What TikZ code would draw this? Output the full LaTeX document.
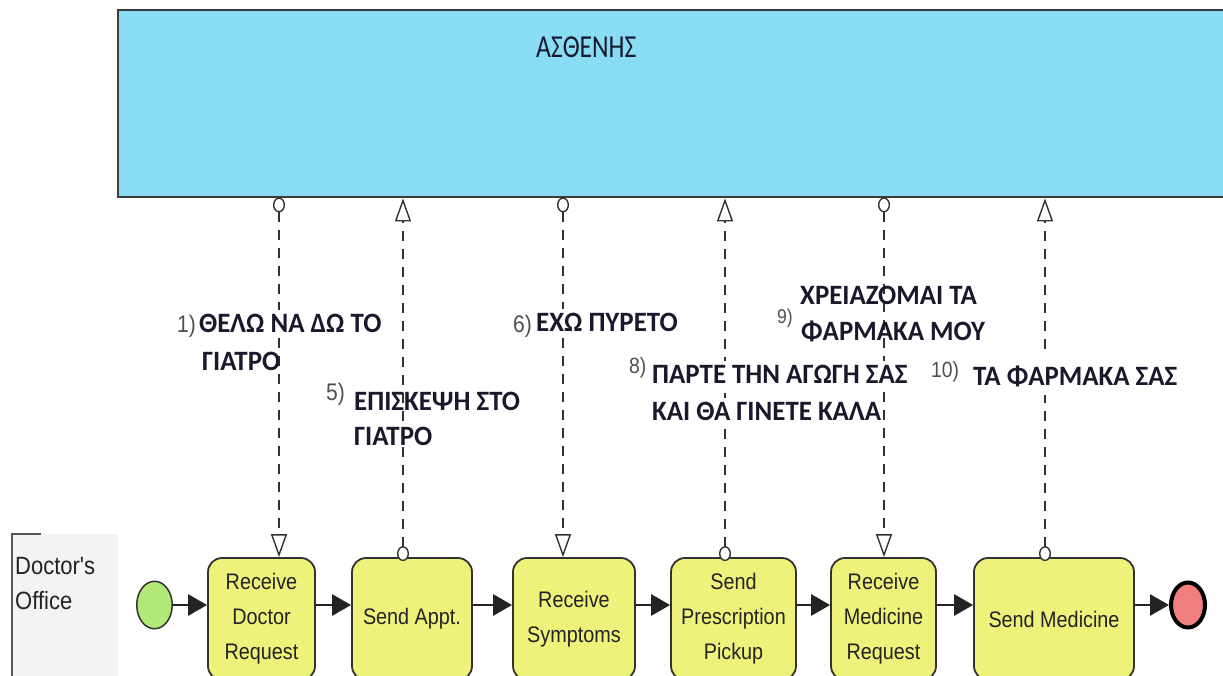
\documentclass[tikz,border=0pt]{standalone}
\usepackage{fontspec}
\setmainfont{Liberation Sans}
\newfontfamily\grk[FakeStretch=0.96]{Carlito}
\newfontfamily\grkc[FakeStretch=0.8]{Carlito}
\newfontfamily\arl[FakeStretch=0.88]{Liberation Sans}
\usetikzlibrary{arrows.meta,shapes.geometric}
\definecolor{poolblue}{RGB}{136,221,245}
\definecolor{poolline}{RGB}{60,60,60}
\definecolor{taskyellow}{RGB}{238,242,122}
\definecolor{taskline}{RGB}{50,50,50}
\definecolor{startgreen}{RGB}{178,232,120}
\definecolor{endred}{RGB}{240,128,128}
\definecolor{lanegray}{RGB}{243,243,243}
\definecolor{laneline}{RGB}{85,85,85}
\definecolor{msgline}{RGB}{50,50,50}
\definecolor{lbltext}{RGB}{25,25,45}
\definecolor{numgray}{RGB}{80,80,80}
\definecolor{txt}{RGB}{35,35,35}
\begin{document}
\begin{tikzpicture}[x=1pt,y=-1pt,
  pool/.style={draw=poolline, line width=2.8pt, fill=poolblue, inner sep=0pt,
    minimum width=1108pt, minimum height=187pt},
  task/.style={draw=taskline, line width=1.8pt, fill=taskyellow, rounded corners=14pt,
    minimum height=122pt, inner sep=0pt, align=center, text=txt,
    font=\arl\fontsize{22.5}{35}\selectfont},
  startev/.style={ellipse, draw=taskline, line width=1.5pt, fill=startgreen,
    minimum width=35.5pt, minimum height=47.5pt, inner sep=0pt},
  endev/.style={ellipse, draw=black, line width=4pt, fill=endred,
    minimum width=34pt, minimum height=45pt, inner sep=0pt},
  flow/.style={draw=txt, line width=2.8pt, -{Triangle[length=19pt,width=21pt]}},
  msg/.style={draw=msgline, line width=1.3pt, dash pattern=on 10pt off 8pt,
    {Ellipse[length=15pt,width=12pt,fill=white,line width=1.4pt]}-{Triangle[length=23pt,width=16pt,fill=white,line width=1.4pt]}},
  lbl/.style={font=\grk\bfseries\fontsize{28}{34}\selectfont, text=lbltext,
    inner sep=2pt, anchor=base west},
  lblw/.style={lbl, fill=white, inner ysep=4pt},
  num/.style={font=\arl\fontsize{24}{28}\selectfont, text=numgray, inner sep=0pt,
    anchor=base west},
  lanetxt/.style={font=\arl\fontsize{25}{30}\selectfont, text=txt, inner sep=0pt,
    anchor=base west}
]
\useasboundingbox (0,0) rectangle (1223,675);
\clip (0,0) rectangle (1223,675);
\fill[white] (0,0) rectangle (1223,675);

% lane
\fill[lanegray] (12,534) rectangle (118,680);
\draw[laneline, line width=2pt] (41,534) -- (12,534) -- (12,680);
\node[lanetxt] (lane1) at (15,574) {Doctor's};
\node[lanetxt] (lane2) at (15,609) {Office};

% pool
\node[pool] (pool) at (672,103.5) {};
\node[font=\grkc\fontsize{32}{36}\selectfont, text=lbltext, inner sep=0pt, anchor=base west]
  (pname) at (536,57) {ΑΣΘΕΝΗΣ};

% tasks and events
\node[startev] (st) at (154.5,605) {};
\node[task, minimum width=107pt] (t1) at (261.5,619) {Receive\\Doctor\\Request};
\node[task, minimum width=120pt] (t2) at (412,619) {Send Appt.};
\node[task, minimum width=122pt] (t3) at (574,619) {Receive\\Symptoms};
\node[task, minimum width=125pt] (t4) at (733.5,619) {Send\\Prescription\\Pickup};
\node[task, minimum width=105pt] (t5) at (883.5,619) {Receive\\Medicine\\Request};
\node[task, minimum width=160pt] (t6) at (1054,619) {Send Medicine};
\node[endev] (en) at (1188,605) {};

% sequence flows
\coordinate (fy) at (0,605);
\draw[flow] (st.east) -- (t1.west |- st.east);
\draw[flow] (t1.east |- fy) -- (t2.west |- fy);
\draw[flow] (t2.east |- fy) -- (t3.west |- fy);
\draw[flow] (t3.east |- fy) -- (t4.west |- fy);
\draw[flow] (t4.east |- fy) -- (t5.west |- fy);
\draw[flow] (t5.east |- fy) -- (t6.west |- fy);
\draw[flow] (t6.east |- fy) -- (en.west);

% message flows
\coordinate (m1) at (279,0);
\coordinate (m2) at (403,0);
\coordinate (m3) at (563,0);
\coordinate (m4) at (725,0);
\coordinate (m5) at (884,0);
\coordinate (m6) at (1045,0);
\draw[msg] ([yshift=1pt]m1 |- pool.south) -- (m1 |- t1.north);
\draw[msg] ([yshift=-4pt]m2 |- t2.north) -- (m2 |- pool.south);
\draw[msg] ([yshift=1pt]m3 |- pool.south) -- (m3 |- t3.north);
\draw[msg] ([yshift=-4pt]m4 |- t4.north) -- (m4 |- pool.south);
\draw[msg] ([yshift=1pt]m5 |- pool.south) -- (m5 |- t5.north);
\draw[msg] ([yshift=-4pt]m6 |- t6.north) -- (m6 |- pool.south);

% message labels
\node[num] (n1) at (177,332) {1)};
\node[lblw] (l1a) at (197,332) {ΘΕΛΩ ΝΑ ΔΩ ΤΟ};
\node[lbl] (l1b) at (200,370) {ΓΙΑΤΡΟ};

\node[num] (n5) at (326,400) {5)};
\node[lbl] (l5a) at (352,410) {ΕΠΙΣΚΕΨΗ ΣΤΟ};
\node[lbl] (l5b) at (352,445) {ΓΙΑΤΡΟ};

\node[num] (n6) at (513,332) {6)};
\node[lblw] (l6) at (534,331) {ΕΧΩ ΠΥΡΕΤΟ};

\node[num, font=\arl\fontsize{22}{26}\selectfont] (n8) at (629,373) {8)};
\node[lblw] (l8a) at (650,383) {ΠΑΡΤΕ ΤΗΝ ΑΓΩΓΗ ΣΑΣ};
\node[lblw] (l8b) at (650,420) {ΚΑΙ ΘΑ ΓΙΝΕΤΕ ΚΑΛΑ};

\node[num, font=\arl\fontsize{20}{24}\selectfont] (n9) at (777,323) {9)};
\node[lbl] (l9a) at (798,304) {ΧΡΕΙΑΖΟΜΑΙ ΤΑ};
\node[lbl] (l9b) at (799,340) {ΦΑΡΜΑΚΑ ΜΟΥ};

\node[num, font=\arl\fontsize{22}{26}\selectfont] (n10) at (931,377) {10)};
\node[lblw, inner ysep=9pt] (l10) at (971,385) {ΤΑ ΦΑΡΜΑΚΑ ΣΑΣ};
\end{tikzpicture}
\end{document}
